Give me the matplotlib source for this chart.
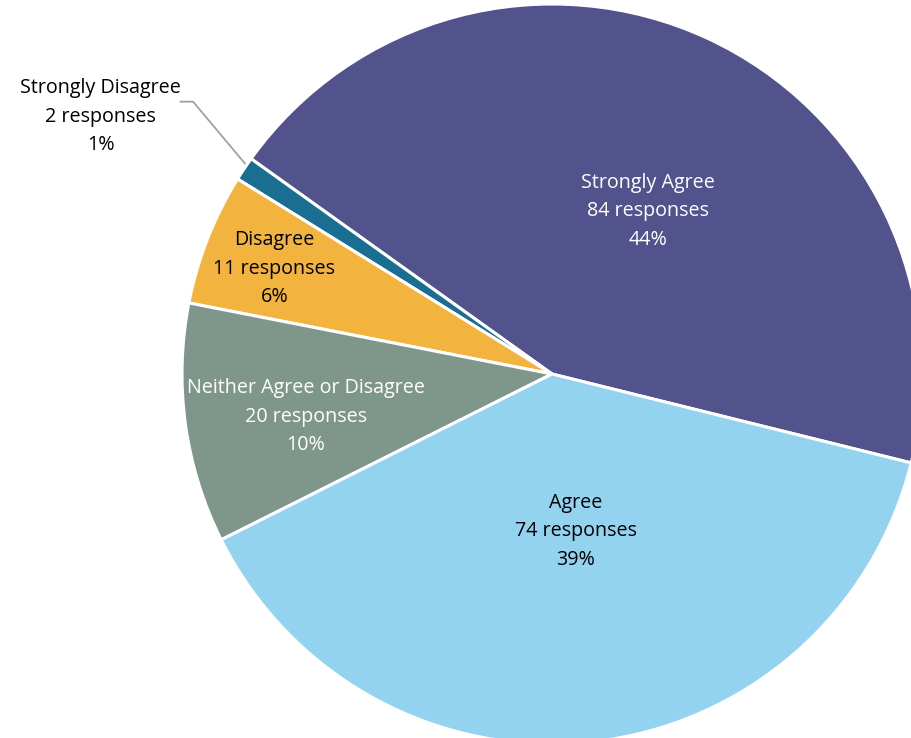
import matplotlib.pyplot as plt

# survey responses, in drawing order (counter-clockwise)
labels = ["Strongly Agree", "Strongly Disagree", "Disagree", "Neither Agree or Disagree", "Agree"]
counts = [84, 2, 11, 20, 74]
colors = ["#52528c", "#1a6e91", "#f3b43f", "#7f968b", "#93d3f0"]
text_colors = ["white", "black", "black", "white", "black"]

# label centres (data units, pie radius = 1)
label_pos = [(0.26, 0.44), (-1.22, 0.695), (-0.75, 0.285), (-0.665, -0.115), (0.065, -0.425)]

total = sum(counts)
fig = plt.figure(figsize=(9.12, 7.38), dpi=100)
ax = fig.add_axes([0, 0, 1, 1])

start = -13.9
wedges, _ = ax.pie(counts, colors=colors, startangle=start, counterclock=True,
                   radius=1, center=(0, 0),
                   wedgeprops=dict(edgecolor="white", linewidth=2.2))

for lab, n, pos, tc in zip(labels, counts, label_pos, text_colors):
    pct = round(100 * n / total)
    ax.text(pos[0], pos[1], f"{lab}\n{n} responses\n{pct}%", ha="center", va="center",
            color=tc, fontsize=14.2, family="Open Sans", linespacing=1.57)

# leader line for the thin slice
ax.plot([-1.004, -0.970, -0.830], [0.736, 0.736, 0.569], color="#a0a0a0", lw=1.3)

ax.set_xlim(-552 / 370, (912 - 552) / 370)
ax.set_ylim(-(738 - 374) / 370, 374 / 370)
ax.set_aspect("auto")
ax.axis("off")
fig.savefig("out.png", dpi=100)
